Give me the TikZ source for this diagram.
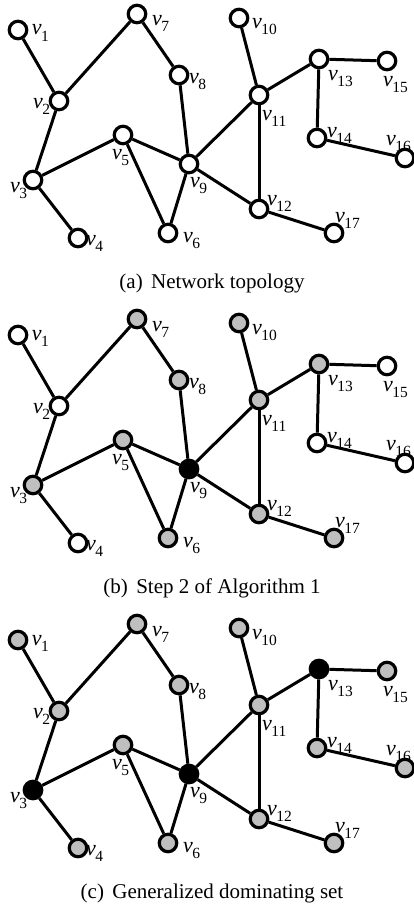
\documentclass[tikz,border=0pt]{standalone}
\usepackage{fontspec}
\setmainfont{Liberation Serif}
\begin{document}
\begin{tikzpicture}[x=1pt,y=-1pt,
  vtx/.style={circle,draw=black,line width=3.2pt,minimum size=17.5pt,inner sep=0pt},
  edge/.style={line width=3pt},
  lab/.style={inner sep=0pt,anchor=base west},
  captext/.style={inner sep=0pt,anchor=base,font=\fontsize{21}{25}\selectfont}]
\useasboundingbox (0,0) rectangle (414,907);
\newcommand\vlab[1]{{\fontsize{22}{26}\selectfont\itshape v}\kern-0.5pt\raisebox{-6pt}{\fontsize{15.5}{18}\selectfont #1}}
\newcommand\setfills[1]{\foreach \i/\c in {#1}{\expandafter\xdef\csname vf\i\endcsname{\c}}}
\def\Vlist{1/18/30/31.7/35, 2/59/101/33/108, 3/33/180/10/192, 4/78/238/86/245,
  5/123/135/112/159, 6/168/233/183/242, 7/137/14/152/26, 8/179/75/189/83,
  9/189/164/190/187, 10/239/18/252/29, 11/259/95/262/120, 12/259/209/267/205,
  13/319/59/328/80, 14/317/138/327/137, 15/387/61/383/86, 16/405/158/386/145,
  17/334/233/335/222}
\def\Elist{1/2, 2/7, 7/8, 8/9, 2/3, 3/5, 3/4, 5/9, 5/6, 6/9, 9/11, 9/12,
  10/11, 11/12, 11/13, 13/15, 13/14, 14/16, 12/17}
\newcommand\panel[3]{%
  \begin{scope}[yshift=#2]
  \foreach \n/\x/\y/\lx/\ly in \Vlist {
    \node[vtx, fill=\csname vf\n\endcsname] (#1\n) at (\x,\y) {};
    \node[lab] (#1l\n) at (\lx,\ly) {\vlab{\n}};
  }
  \foreach \a/\b in \Elist { \draw[edge] (#1\a) -- (#1\b); }
  \node[captext] (#1cap) at (212,288) {#3};
  \end{scope}}
\colorlet{gn}{black!25}
% panel (a)
\setfills{1/white,2/white,3/white,4/white,5/white,6/white,7/white,8/white,9/white,10/white,11/white,12/white,13/white,14/white,15/white,16/white,17/white}
\panel{a}{0pt}{(a)\hspace{0.4em}Network topology}
% panel (b)
\setfills{1/white,2/white,3/gn,4/white,5/gn,6/gn,7/gn,8/gn,9/black,10/gn,11/gn,12/gn,13/gn,14/white,15/white,16/white,17/gn}
\panel{b}{-305pt}{(b)\hspace{0.4em}Step 2 of Algorithm 1}
% panel (c)
\setfills{1/gn,2/gn,3/black,4/gn,5/gn,6/gn,7/gn,8/gn,9/black,10/gn,11/gn,12/gn,13/black,14/gn,15/gn,16/gn,17/gn}
\panel{c}{-610pt}{(c)\hspace{0.4em}Generalized dominating set}
\end{tikzpicture}
\end{document}
